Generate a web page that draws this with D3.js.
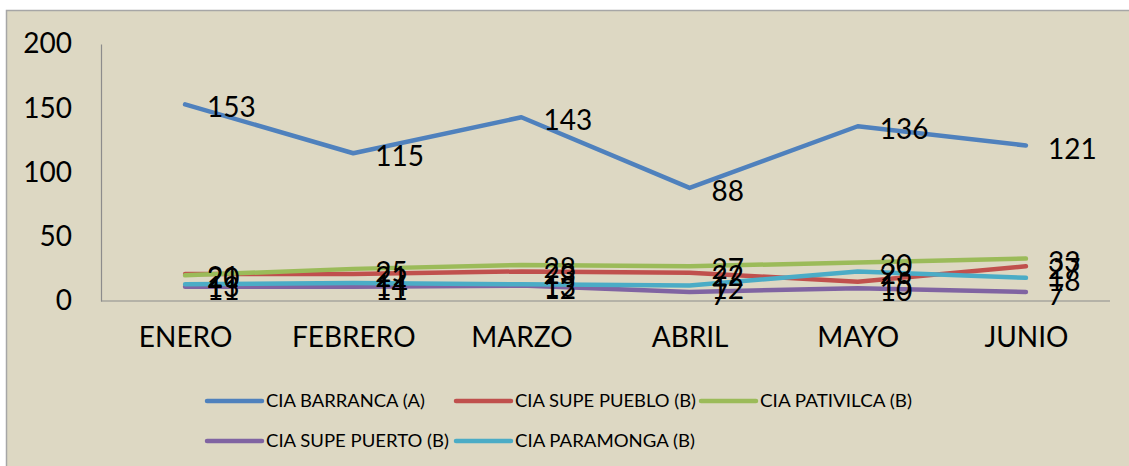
<!DOCTYPE html>
<html>
<head>
<meta charset="utf-8">
<script src="https://cdn.jsdelivr.net/npm/d3@7"></script>
<style>
  body { margin: 0; background: #fff; }
  svg { display: block; font-family: Lato, "Open Sans", sans-serif; }
</style>
</head>
<body>
<div id="chart"></div>
<script>
const months = ["ENERO", "FEBRERO", "MARZO", "ABRIL", "MAYO", "JUNIO"];
const seriesNames = ["CIA BARRANCA (A)", "CIA SUPE PUEBLO (B)", "CIA PATIVILCA (B)", "CIA SUPE PUERTO (B)", "CIA PARAMONGA (B)"];
const barranca   = [153, 115, 143, 88, 136, 121];
const supePueblo = [21, 21, 23, 22, 15, 27];
const pativilca  = [20, 25, 28, 27, 30, 33];
const supePuerto = [11, 11, 12, 7, 10, 7];
const paramonga  = [13, 14, 13, 12, 23, 18];
const yTicks = [0, 50, 100, 150, 200];
const colors = ["#4F81BD", "#C0504D", "#9BBB59", "#8064A2", "#4BACC6"];

const allValues = [barranca, supePueblo, pativilca, supePuerto, paramonga];
const series = seriesNames.map((name, i) => ({name: name, values: allValues[i], color: colors[i]}));

const W = 1129, H = 466;
const svg = d3.select("#chart").append("svg")
    .attr("width", W)
    .attr("height", H);

// panel background + border
svg.append("rect")
    .attr("x", 6.5).attr("y", 10.5)
    .attr("width", W + 10).attr("height", H + 10)
    .attr("fill", "#DDD8C3")
    .attr("stroke", "#A6A6A6")
    .attr("stroke-width", 1.5);

const plotLeft = 101, plotRight = 1110;
const x = d3.scalePoint()
    .domain(months)
    .range([plotLeft, plotRight])
    .padding(0.5);

const y = d3.scaleLinear()
    .domain([0, 200])
    .range([301, 44]);

// y axis
const yAxis = svg.append("g")
    .attr("transform", `translate(${plotLeft},0)`)
    .call(d3.axisLeft(y).tickValues(yTicks).tickSize(0).tickPadding(29));
yAxis.select(".domain").attr("stroke", "#8C8C8C").attr("stroke-width", 1.2);
yAxis.selectAll("text")
    .attr("font-family", "Lato, sans-serif")
    .attr("font-size", 28)
    .attr("fill", "#000");

// x axis
const xAxis = svg.append("g")
    .attr("transform", `translate(0,${y(0)})`)
    .call(d3.axisBottom(x).tickSize(0).tickPadding(26));
xAxis.select(".domain")
    .attr("d", `M${plotLeft},0H${plotRight}`)
    .attr("stroke", "#8C8C8C").attr("stroke-width", 1.2);
xAxis.selectAll("text")
    .attr("font-family", "Lato, sans-serif")
    .attr("font-size", 28)
    .attr("fill", "#000");

// lines
const line = d3.line()
    .x((d, i) => x(months[i]))
    .y(d => y(d));

svg.append("g")
  .selectAll("path")
  .data(series)
  .enter().append("path")
    .attr("fill", "none")
    .attr("stroke", d => d.color)
    .attr("stroke-width", 4.5)
    .attr("stroke-linecap", "round")
    .attr("stroke-linejoin", "round")
    .attr("d", d => line(d.values));

// data labels
series.forEach(s => {
  svg.append("g")
    .selectAll("text")
    .data(s.values)
    .enter().append("text")
      .attr("x", (d, i) => x(months[i]) + 22)
      .attr("y", d => y(d) + 2)
      .attr("dominant-baseline", "central")
      .attr("font-size", 28)
      .attr("fill", "#000")
      .text(d => d);
});

// legend
const legendPos = [
  {x: 207, y: 401, w: 159},
  {x: 456, y: 401, w: 181},
  {x: 701, y: 401, w: 152},
  {x: 207, y: 441, w: 183},
  {x: 456, y: 441, w: 180}
];
const legend = svg.append("g")
  .selectAll("g")
  .data(series)
  .enter().append("g")
    .attr("transform", (d, i) => `translate(${legendPos[i].x},${legendPos[i].y})`);

legend.append("line")
    .attr("x1", 0).attr("x2", 55)
    .attr("stroke", d => d.color)
    .attr("stroke-width", 4.5)
    .attr("stroke-linecap", "round");

legend.append("text")
    .attr("x", 59)
    .attr("dominant-baseline", "central")
    .attr("font-size", 16.5)
    .attr("fill", "#000")
    .attr("textLength", (d, i) => legendPos[i].w)
    .attr("lengthAdjust", "spacingAndGlyphs")
    .text(d => d.name);
</script>
</body>
</html>
